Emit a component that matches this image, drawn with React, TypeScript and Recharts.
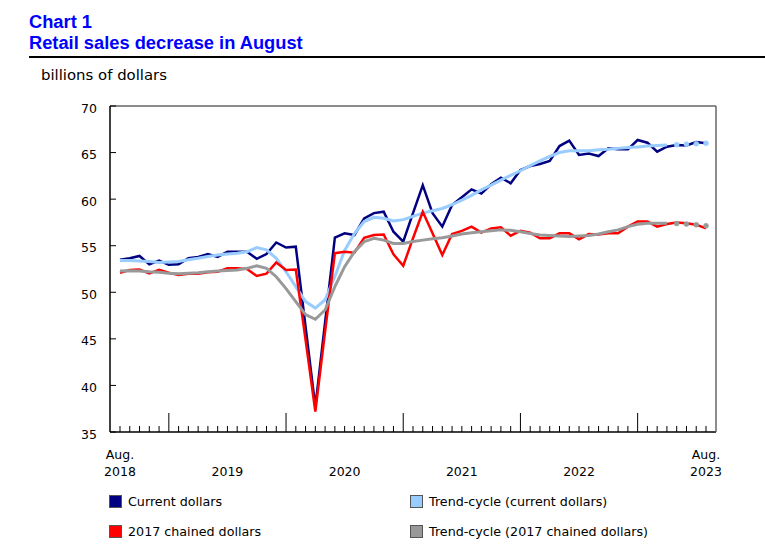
import React from 'react';
import { LineChart, Line, XAxis, YAxis } from 'recharts';

// monthly, Aug. 2018 to Aug. 2023
const months: string[] = [];
for (let k = 0; k < 61; k++) {
  const y = 2018 + Math.floor((7 + k) / 12);
  const m = ((7 + k) % 12) + 1;
  months.push(`${y}-${String(m).padStart(2, '0')}`);
}

const currentDollars = [
  53.5, 53.65, 53.9, 53.0, 53.4, 52.95, 53.0, 53.65, 53.8, 54.1, 53.8, 54.35,
  54.35, 54.35, 53.6, 54.1, 55.35, 54.8, 54.9, 46.3, 37.7, 46.8, 55.86, 56.33,
  56.15, 57.94, 58.5, 58.65, 56.5, 55.43, 58.5, 61.5, 58.5, 57.05, 59.37, 60.2,
  61.05, 60.6, 61.6, 62.3, 61.7, 63.13, 63.56, 63.77, 64.1, 65.7, 66.28, 64.74,
  64.9, 64.63, 65.45, 65.35, 65.35, 66.35, 66.06, 65.1, 65.63, 65.8, 65.77, 66.13,
  66.0,
];

const trendCurrent = [
  53.4, 53.4, 53.35, 53.3, 53.2, 53.25, 53.3, 53.5, 53.65, 53.85, 54.0, 54.1,
  54.2, 54.35, 54.8, 54.55, 53.65, 52.2, 50.6, 49.0, 48.3, 49.2, 51.7, 54.5,
  56.3, 57.6, 58.05, 57.95, 57.65, 57.8, 58.15, 58.5, 58.75, 59.0, 59.4, 59.9,
  60.4, 61.0, 61.5, 62.05, 62.55, 63.05, 63.6, 64.1, 64.6, 65.0, 65.2, 65.2,
  65.2, 65.3, 65.35, 65.45, 65.55, 65.6, 65.7, 65.75, 65.8, 65.85, 65.9, 65.95,
  66.0,
];

const chainedDollars = [
  52.1, 52.4, 52.45, 52.03, 52.4, 52.1, 51.85, 52.0, 52.0, 52.15, 52.2, 52.57,
  52.57, 52.5, 51.75, 52.0, 53.2, 52.4, 52.45, 44.9, 37.2, 45.8, 54.2, 54.35,
  54.25, 55.86, 56.15, 56.2, 54.07, 52.85, 55.8, 58.65, 56.33, 54.0, 56.25, 56.6,
  57.05, 56.4, 56.86, 56.97, 56.08, 56.6, 56.4, 55.8, 55.8, 56.33, 56.33, 55.7,
  56.25, 56.2, 56.33, 56.33, 57.05, 57.6, 57.6, 57.05, 57.33, 57.5, 57.4, 57.26,
  56.86,
];

const trendChained = [
  52.28, 52.3, 52.28, 52.2, 52.15, 52.05, 52.0, 52.05, 52.1, 52.2, 52.28, 52.35,
  52.4, 52.57, 52.85, 52.57, 51.67, 50.4, 49.0, 47.6, 47.1, 48.1, 50.6, 52.75,
  54.35, 55.43, 55.8, 55.6, 55.25, 55.25, 55.45, 55.6, 55.75, 55.86, 56.05, 56.25,
  56.4, 56.5, 56.6, 56.7, 56.65, 56.5, 56.3, 56.15, 56.1, 56.04, 56.0, 56.04,
  56.1, 56.25, 56.5, 56.7, 57.05, 57.3, 57.4, 57.4, 57.4, 57.38, 57.33, 57.25,
  57.15,
];

// the last trend-cycle months are drawn as dots
const provisionalFrom = 57;

const yTicks = [35, 40, 45, 50, 55, 60, 65, 70];
const xLabelMonths = ['2018-08', '2019-07', '2020-07', '2021-07', '2022-07', '2023-08'];
const xLabelText = [
  ['Aug.', '2018'],
  ['', '2019'],
  ['', '2020'],
  ['', '2021'],
  ['', '2022'],
  ['Aug.', '2023'],
];

const data = months.map((month, i) => ({
  month,
  current: currentDollars[i],
  chained: chainedDollars[i],
  trendCur: i < provisionalFrom ? trendCurrent[i] : null,
  trendChn: i < provisionalFrom ? trendChained[i] : null,
  trendCurProv: i >= provisionalFrom ? trendCurrent[i] : null,
  trendChnProv: i >= provisionalFrom ? trendChained[i] : null,
}));

const NAVY = '#000080';
const LIGHT = '#99ccff';
const RED = '#ff0000';
const GREY = '#999999';
const FONT = '"DejaVu Sans", Verdana, sans-serif';

function MonthTick(props: any) {
  const { x, y, payload } = props;
  const m: string = payload.value;
  const isJan = m.endsWith('-01');
  const li = xLabelMonths.indexOf(m);
  return (
    <g>
      <line x1={x} x2={x} y1={y} y2={y - (isJan ? 19 : 6)} stroke="#000" strokeWidth={1} />
      {li >= 0 && (
        <text textAnchor="middle" fontFamily={FONT} fontSize={12.5} fill="#000">
          <tspan x={x} y={y + 26.5}>{xLabelText[li][0]}</tspan>
          <tspan x={x} y={y + 44}>{xLabelText[li][1]}</tspan>
        </text>
      )}
    </g>
  );
}

function ValueTick(props: any) {
  const { x, y, payload } = props;
  return (
    <g>
      <line x1={x} x2={x + 6} y1={y} y2={y} stroke="#000" strokeWidth={1} />
      <text x={x - 13} y={y + 6.5} textAnchor="end" fontFamily={FONT} fontSize={12.5} fill="#000">
        {payload.value}
      </text>
    </g>
  );
}

const legendItems = [
  { label: 'Current dollars', color: NAVY, left: 109, top: 495 },
  { label: 'Trend-cycle (current dollars)', color: LIGHT, left: 410, top: 495 },
  { label: '2017 chained dollars', color: RED, left: 109, top: 525 },
  { label: 'Trend-cycle (2017 chained dollars)', color: GREY, left: 410, top: 525 },
];

export default function App() {
  return (
    <div
      style={{
        position: 'absolute',
        left: 0,
        top: 0,
        width: 765,
        height: 546,
        background: '#fff',
        overflow: 'hidden',
      }}
    >
      <div
        style={{
          position: 'absolute',
          left: 29,
          top: 12,
          fontFamily: '"Liberation Sans", Arial, sans-serif',
          fontWeight: 'bold',
          fontSize: 18.3,
          lineHeight: '20.5px',
          color: '#0000ff',
          whiteSpace: 'nowrap',
        }}
      >
        <div>Chart 1</div>
        <div>Retail sales decrease in August</div>
      </div>
      <div style={{ position: 'absolute', left: 29, top: 56, width: 736, height: 2, background: '#000' }} />
      <div
        style={{
          position: 'absolute',
          left: 41,
          top: 67,
          fontFamily: FONT,
          fontSize: 14.9,
          lineHeight: '17px',
          color: '#000',
          whiteSpace: 'nowrap',
        }}
      >
        billions of dollars
      </div>

      <div style={{ position: 'absolute', left: 0, top: 0 }}>
        <LineChart width={765} height={546} data={data} margin={{ top: 105, right: 48, bottom: 64, left: 70 }}>
          <XAxis
            dataKey="month"
            interval={0}
            padding={{ left: 10, right: 10 }}
            height={50}
            tickSize={0}
            tickMargin={0}
            tickLine={false}
            axisLine={{ stroke: '#000', strokeWidth: 1.5 }}
            tick={<MonthTick />}
          />
          <XAxis xAxisId="top" orientation="top" dataKey="month" height={1} tick={false} tickLine={false} axisLine={{ stroke: '#666', strokeWidth: 1.5 }} />
          <YAxis
            type="number"
            domain={[35, 70]}
            ticks={yTicks}
            width={40}
            tickSize={0}
            tickMargin={0}
            tickLine={false}
            axisLine={{ stroke: '#000', strokeWidth: 1.5 }}
            tick={<ValueTick />}
          />
          <YAxis yAxisId="frame" orientation="right" type="number" domain={[35, 70]} width={1} tick={false} tickLine={false} axisLine={{ stroke: '#666', strokeWidth: 1.5 }} />

          <Line dataKey="current" stroke={NAVY} strokeWidth={2.5} dot={false} isAnimationActive={false} />
          <Line dataKey="trendCur" stroke={LIGHT} strokeWidth={3} dot={false} isAnimationActive={false} />
          <Line dataKey="chained" stroke={RED} strokeWidth={2.5} dot={false} isAnimationActive={false} />
          <Line dataKey="trendChn" stroke={GREY} strokeWidth={3} dot={false} isAnimationActive={false} />
          <Line
            dataKey="trendCurProv"
            stroke="none"
            dot={{ r: 2.5, fill: LIGHT, stroke: LIGHT, strokeWidth: 0.5 }}
            isAnimationActive={false}
          />
          <Line
            dataKey="trendChnProv"
            stroke="none"
            dot={{ r: 2.5, fill: GREY, stroke: GREY, strokeWidth: 0.5 }}
            isAnimationActive={false}
          />
        </LineChart>
      </div>

      {legendItems.map((it) => (
        <div key={it.label} style={{ position: 'absolute', left: it.left, top: it.top, height: 13, display: 'flex', alignItems: 'center' }}>
          <div style={{ width: 11, height: 11, background: it.color, border: '1px solid #555' }} />
          <span style={{ marginLeft: 6, fontFamily: FONT, fontSize: 12.7, color: '#000', whiteSpace: 'nowrap' }}>{it.label}</span>
        </div>
      ))}
    </div>
  );
}
